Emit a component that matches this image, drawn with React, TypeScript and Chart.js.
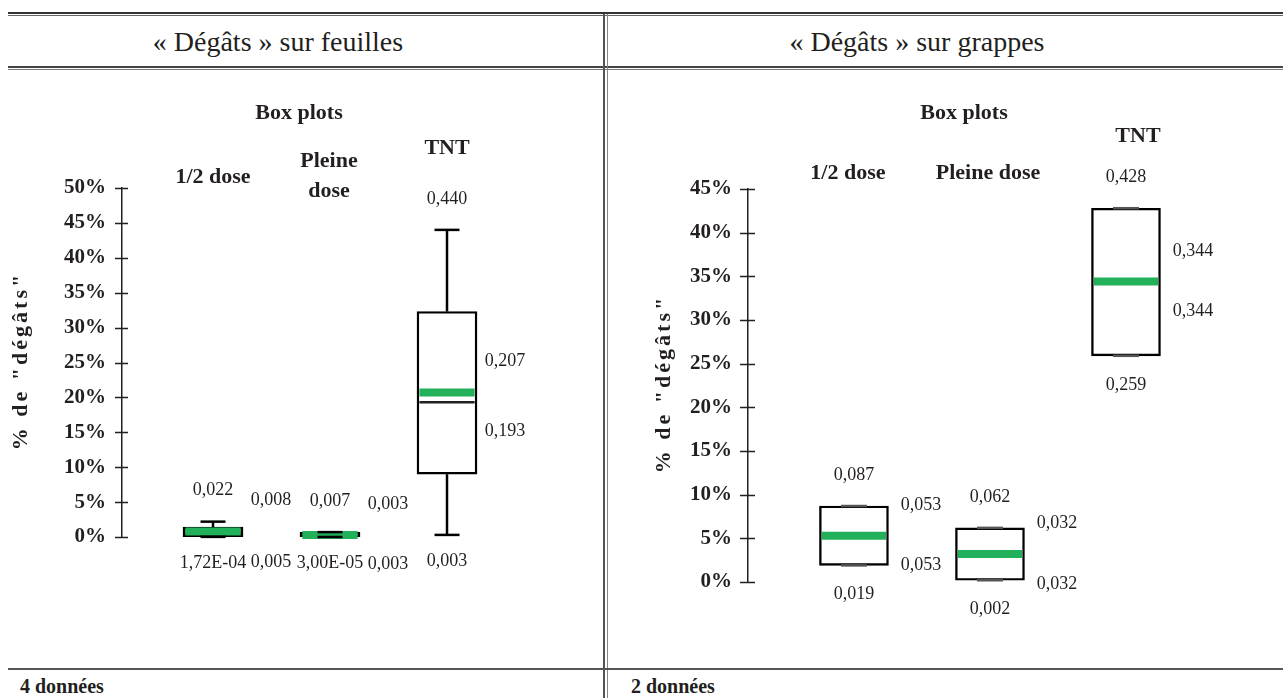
import React, { useEffect, useRef } from "react";
import { Chart, registerables } from "chart.js";

Chart.register(...registerables);

const FONT = "'Liberation Serif', 'Times New Roman', serif";
const INK = "#231f20";
const GREEN = "#23b05a";

const categories = ["1/2 dose", "Pleine dose", "TNT"];

// « Dégâts » sur feuilles (4 données)
const leafMin = [0.000172, 0.00003, 0.003];
const leafQ1 = [0.0002, 0.0, 0.09];
const leafMedian = [0.005, 0.003, 0.193];
const leafMean = [0.008, 0.003, 0.207];
const leafQ3 = [0.0143, 0.0066, 0.323];
const leafMax = [0.022, 0.007, 0.44];

// « Dégâts » sur grappes (2 données)
const bunchMin = [0.019, 0.002, 0.259];
const bunchQ1 = [0.019, 0.002, 0.259];
const bunchMedian = [0.053, 0.032, 0.344];
const bunchMean = [0.053, 0.032, 0.344];
const bunchQ3 = [0.087, 0.062, 0.428];
const bunchMax = [0.087, 0.062, 0.428];

const leafAxisMax = 0.5;
const bunchAxisMax = 0.45;
const tickStep = 0.05;

const axisTitle = '% de "dégâts"';
const chartTitle = "Box plots";
const panelTitles = ["« Dégâts » sur feuilles", "« Dégâts » sur grappes"];
const footNotes = ["4 données", "2 données"];

function fmt(v: number): string {
  if (v < 0.001) {
    const [m, e] = v.toExponential(2).split("e");
    const sign = e.startsWith("-") ? "-" : "+";
    const digits = e.replace(/^[-+]/, "").padStart(2, "0");
    return `${m.replace(".", ",")}E${sign}${digits}`;
  }
  return v.toFixed(3).replace(".", ",");
}

type CatLabel = { dx: number; y: number; wrap: boolean };
type Layout = {
  width: number;
  height: number;
  axisX: number;
  padTop: number;
  padBottom: number;
  padRight: number;
  xMin: number;
  xMax: number;
  boxW: number;
  border: number;
  capW: number;
  capColor: string;
  boxFill: string[];
  tickOut: number;
  tickIn: number;
  sideDx: number;
  above: number;
  belowMin: number;
  belowMed: number;
  titleX: number;
  titleY: number;
  axisTitleX: number;
  catLabels: CatLabel[];
};

type Props = {
  q1: number[];
  q3: number[];
  min: number[];
  max: number[];
  median: number[];
  mean: number[];
  yMax: number;
  L: Layout;
};

function line(ctx: CanvasRenderingContext2D, x1: number, y1: number, x2: number, y2: number) {
  ctx.beginPath();
  ctx.moveTo(x1, y1);
  ctx.lineTo(x2, y2);
  ctx.stroke();
}

function BoxChart({ q1, q3, min, max, median, mean, yMax, L }: Props) {
  const ref = useRef<HTMLCanvasElement | null>(null);

  useEffect(() => {
    if (!ref.current) return;

    const plugin = {
      id: "boxmarks",
      afterDatasetsDraw(chart: any) {
        const ctx: CanvasRenderingContext2D = chart.ctx;
        const x = chart.scales.x;
        const y = chart.scales.y;
        ctx.save();
        ctx.lineCap = "butt";
        categories.forEach((_, i) => {
          const cx = x.getPixelForValue(i);
          const inner = L.boxW / 2 - L.border;
          const pMed = y.getPixelForValue(median[i]);
          const pMean = y.getPixelForValue(mean[i]);
          ctx.strokeStyle = INK;
          ctx.lineWidth = 2.5;
          line(ctx, cx - inner, pMed, cx + inner, pMed);
          ctx.strokeStyle = GREEN;
          ctx.lineWidth = 8;
          line(ctx, cx - inner, pMean, cx + inner, pMean);
          const pMax = y.getPixelForValue(max[i]);
          const pQ3 = y.getPixelForValue(q3[i]);
          const pQ1 = y.getPixelForValue(q1[i]);
          const pMin = y.getPixelForValue(min[i]);
          ctx.strokeStyle = L.capColor;
          ctx.lineWidth = 2.5;
          if (pQ3 - pMax > 0.5) line(ctx, cx, pQ3, cx, pMax);
          if (pMin - pQ1 > 0.5) line(ctx, cx, pQ1, cx, pMin);
          line(ctx, cx - L.capW / 2, pMax, cx + L.capW / 2, pMax);
          line(ctx, cx - L.capW / 2, pMin, cx + L.capW / 2, pMin);
        });
        ctx.restore();
      },
      afterDraw(chart: any) {
        const ctx: CanvasRenderingContext2D = chart.ctx;
        const x = chart.scales.x;
        const y = chart.scales.y;
        const area = chart.chartArea;
        ctx.save();
        // cross ticks
        ctx.strokeStyle = INK;
        ctx.lineWidth = 1.5;
        y.ticks.forEach((t: any) => {
          const py = Math.round(y.getPixelForValue(t.value)) + 0.5;
          line(ctx, area.left - L.tickOut, py, area.left + L.tickIn, py);
        });
        // axis title
        ctx.fillStyle = INK;
        ctx.save();
        ctx.translate(L.axisTitleX, (area.top + area.bottom) / 2);
        ctx.rotate(-Math.PI / 2);
        (ctx as any).letterSpacing = "3px";
        ctx.font = `bold 22px ${FONT}`;
        ctx.textAlign = "center";
        ctx.textBaseline = "middle";
        ctx.fillText(axisTitle, 1.5, 0);
        ctx.restore();
        // chart title and category headers
        ctx.font = `bold 22px ${FONT}`;
        ctx.textAlign = "center";
        ctx.textBaseline = "middle";
        ctx.fillText(chartTitle, L.titleX, L.titleY);
        categories.forEach((c, i) => {
          const cl = L.catLabels[i];
          const cx = x.getPixelForValue(i) + cl.dx;
          if (cl.wrap) {
            const parts = c.split(" ");
            parts.forEach((p, k) => ctx.fillText(p, cx, cl.y + k * 30));
          } else {
            ctx.fillText(c, cx, cl.y);
          }
        });
        // value labels
        ctx.font = `18px ${FONT}`;
        categories.forEach((_, i) => {
          const cx = x.getPixelForValue(i);
          ctx.fillText(fmt(max[i]), cx, y.getPixelForValue(max[i]) - L.above);
          ctx.fillText(fmt(min[i]), cx, y.getPixelForValue(min[i]) + L.belowMin);
          ctx.fillText(fmt(mean[i]), cx + L.sideDx, y.getPixelForValue(mean[i]) - L.above);
          ctx.fillText(fmt(median[i]), cx + L.sideDx, y.getPixelForValue(median[i]) + L.belowMed);
        });
        ctx.restore();
      },
    };

    const chart = new Chart(ref.current, {
      type: "bar",
      data: {
        datasets: [
          {
            data: categories.map((_, i) => ({ x: i, y: [q1[i], q3[i]] })) as any,
            backgroundColor: L.boxFill,
            borderColor: "#000",
            borderWidth: L.border,
            borderSkipped: false,
            barThickness: L.boxW,
          },
        ],
      },
      options: {
        responsive: false,
        animation: false,
        devicePixelRatio: 1,
        events: [],
        layout: { padding: { left: 0, right: L.padRight, top: L.padTop, bottom: L.padBottom } },
        plugins: { legend: { display: false }, tooltip: { enabled: false }, title: { display: false } },
        scales: {
          x: { type: "linear", min: L.xMin, max: L.xMax, display: false, offset: false },
          y: {
            min: 0,
            max: yMax,
            afterFit: (s: any) => {
              s.width = L.axisX;
            },
            grid: { display: false, drawTicks: false },
            border: { display: true, color: INK, width: 1.5 },
            ticks: {
              stepSize: tickStep,
              padding: 16,
              color: INK,
              font: { family: FONT, size: 21, weight: "bold" },
              callback: (v: any) => `${Math.round(Number(v) * 100)}%`,
            },
          },
        },
      } as any,
      plugins: [plugin as any],
    });
    return () => chart.destroy();
  }, []);

  return <canvas ref={ref} width={L.width} height={L.height} style={{ display: "block", width: L.width, height: L.height }} />;
}

const leafLayout: Layout = {
  width: 594,
  height: 594,
  axisX: 114,
  padTop: 116,
  padBottom: 129,
  padRight: 38,
  xMin: -0.778,
  xMax: 3,
  boxW: 60,
  border: 2.4,
  capW: 25,
  capColor: "#000",
  boxFill: [GREEN, "#ffffff", "#ffffff"],
  tickOut: 7,
  tickIn: 6,
  sideDx: 58,
  above: 31,
  belowMin: 26,
  belowMed: 29,
  titleX: 291,
  titleY: 41,
  axisTitleX: 13,
  catLabels: [
    { dx: 0, y: 105, wrap: false },
    { dx: -1, y: 89, wrap: true },
    { dx: 0, y: 76, wrap: false },
  ],
};

const bunchLayout: Layout = {
  width: 673,
  height: 594,
  axisX: 138,
  padTop: 117,
  padBottom: 84,
  padRight: 21,
  xMin: -0.779,
  xMax: 3,
  boxW: 69,
  border: 2.4,
  capW: 26,
  capColor: "#555",
  boxFill: ["#ffffff", "#ffffff", "#ffffff"],
  tickOut: 8,
  tickIn: 7,
  sideDx: 67,
  above: 30.5,
  belowMin: 29,
  belowMed: 30,
  titleX: 354,
  titleY: 41,
  axisTitleX: 54,
  catLabels: [
    { dx: -6, y: 101, wrap: false },
    { dx: -2, y: 101, wrap: false },
    { dx: 12, y: 64, wrap: false },
  ],
};

const rule = (left: number, top: number, width: number, height: number, color: string) => (
  <div style={{ position: "absolute", left, top, width, height, background: color }} />
);

export default function App() {
  return (
    <div
      style={{
        position: "fixed",
        left: 0,
        top: 0,
        width: 1283,
        height: 698,
        overflow: "hidden",
        background: "#fff",
        fontFamily: FONT,
        color: INK,
      }}
    >
      <div style={{ position: "absolute", left: 8, top: 72 }}>
        <BoxChart q1={leafQ1} q3={leafQ3} min={leafMin} max={leafMax} median={leafMedian} mean={leafMean} yMax={leafAxisMax} L={leafLayout} />
      </div>
      <div style={{ position: "absolute", left: 610, top: 72 }}>
        <BoxChart q1={bunchQ1} q3={bunchQ3} min={bunchMin} max={bunchMax} median={bunchMedian} mean={bunchMean} yMax={bunchAxisMax} L={bunchLayout} />
      </div>

      {rule(8, 12, 1275, 2, "#333")}
      {rule(8, 15, 1275, 1, "#666")}
      {rule(8, 66, 1275, 2, "#444")}
      {rule(8, 69, 1275, 1, "#777")}
      {rule(603, 14, 2, 684, "#555")}
      {rule(607, 14, 1, 684, "#888")}
      {rule(8, 668, 1275, 2, "#555")}

      <div style={{ position: "absolute", left: 0, top: 24, width: 556, lineHeight: "36px", fontSize: 28, textAlign: "center" }}>
        {panelTitles[0]}
      </div>
      <div style={{ position: "absolute", left: 617, top: 24, width: 600, lineHeight: "36px", fontSize: 28, textAlign: "center" }}>
        {panelTitles[1]}
      </div>
      <div style={{ position: "absolute", left: 20, top: 674, lineHeight: "24px", fontSize: 20, fontWeight: "bold" }}>{footNotes[0]}</div>
      <div style={{ position: "absolute", left: 631, top: 674, lineHeight: "24px", fontSize: 20, fontWeight: "bold" }}>{footNotes[1]}</div>
    </div>
  );
}
